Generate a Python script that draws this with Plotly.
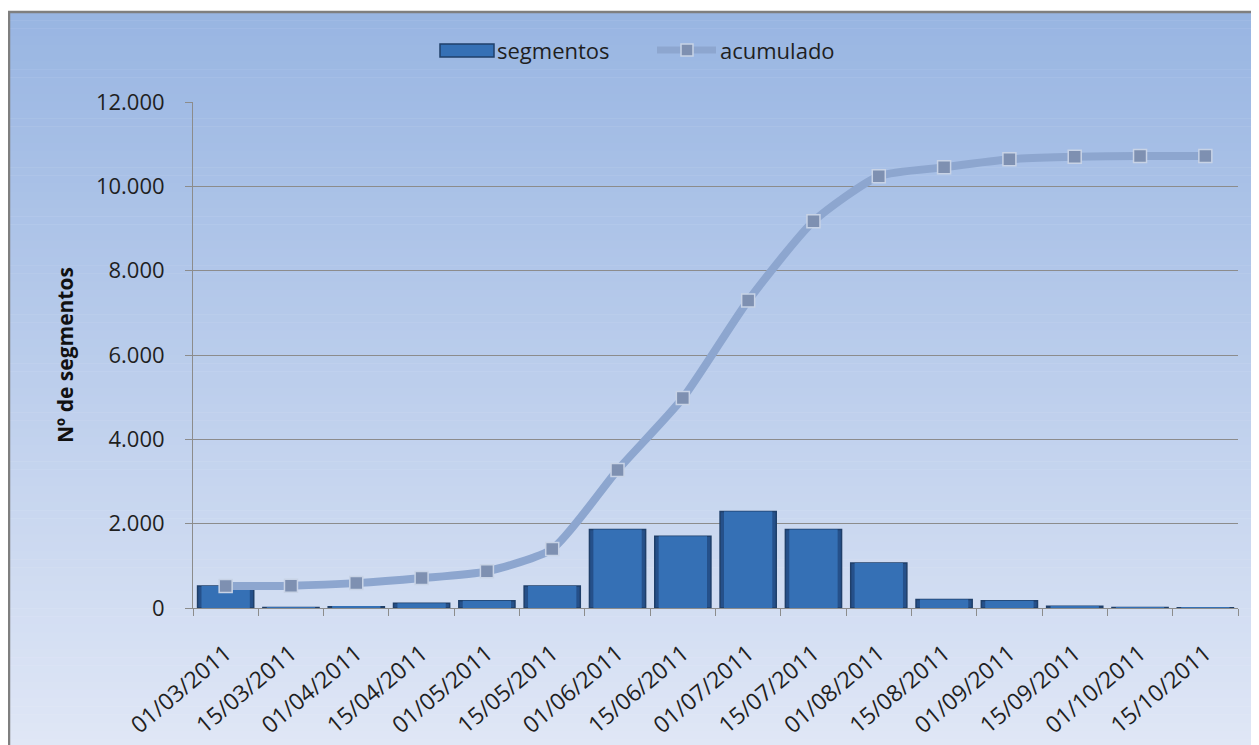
import plotly.graph_objects as go

categories = ["01/03/2011", "15/03/2011", "01/04/2011", "15/04/2011", "01/05/2011",
              "15/05/2011", "01/06/2011", "15/06/2011", "01/07/2011", "15/07/2011",
              "01/08/2011", "15/08/2011", "01/09/2011", "15/09/2011", "01/10/2011",
              "15/10/2011"]
segmentos = [520, 10, 30, 110, 170, 520, 1860, 1700, 2290, 1860, 1070, 200, 170, 40, 10, 8]
acumulado = [520, 530, 590, 710, 870, 1400, 3270, 4980, 7290, 9170, 10240, 10450, 10640, 10700, 10720, 10720]
y_tickvals = [0, 2000, 4000, 6000, 8000, 10000, 12000]
y_ticktext = ["0", "2.000", "4.000", "6.000", "8.000", "10.000", "12.000"]
series_names = ["segmentos", "acumulado"]

OFF = 8  # page body margin
W, H = 1259 - OFF, 745 - OFF
ML, MR, MT, MB = 193 - OFF, 21, 102 - OFF, 137
PW, PH = W - ML - MR, H - MT - MB

def px_x(x):  # page pixel -> paper
    return (x - OFF - ML) / PW

def px_y(y):
    return (OFF + H - MB - y) / PH

FONT = "'Open Sans', Lato, sans-serif"
TXT = "#1f1f1f"
BAR_EDGE = "#25508a"
BAR = "#3570b5"
BAR_LINE = "#1f3f6a"
LINE = "#8da6cf"
MK = "#7e90b1"
MK_LINE = "#c8d3e6"

fig = go.Figure()

# outer (darker bevel edge) and inner (lighter face) bars, same data
fig.add_trace(go.Bar(
    x=categories, y=segmentos, name=series_names[0],
    marker=dict(color=BAR_EDGE, line=dict(color=BAR_LINE, width=1.5)),
    width=0.86, hoverinfo="skip",
))
fig.add_trace(go.Bar(
    x=categories, y=segmentos, name=series_names[0],
    marker=dict(color=BAR, line=dict(width=0)),
    width=0.74,
))
fig.add_trace(go.Scatter(
    x=categories, y=acumulado, name=series_names[1], mode="lines+markers",
    line=dict(color=LINE, width=8, shape="spline", smoothing=0.6),
    marker=dict(symbol="square", size=13, color=MK, line=dict(color=MK_LINE, width=1.5)),
))

# background gradient (strips) + frame
shapes = []
top_px, bot_px = 12, 747
n = 90
c0 = (152, 181, 226)
c1 = (224, 231, 246)
for i in range(n):
    y0 = top_px + (bot_px - top_px) * i / n
    y1 = top_px + (bot_px - top_px) * (i + 1) / n + 0.5
    t = (i + 0.5) / n
    c = tuple(round(c0[k] + (c1[k] - c0[k]) * t) for k in range(3))
    shapes.append(dict(type="rect", xref="paper", yref="paper", layer="below",
                       x0=px_x(8), x1=px_x(1262), y0=px_y(y1), y1=px_y(y0),
                       fillcolor="rgb(%d,%d,%d)" % c, line=dict(width=0)))
shapes.append(dict(type="line", xref="paper", yref="paper", layer="above",
                   x0=px_x(8), x1=px_x(1262), y0=px_y(12), y1=px_y(12),
                   line=dict(color="#7f7f7f", width=2.5)))
shapes.append(dict(type="line", xref="paper", yref="paper", layer="above",
                   x0=px_x(9), x1=px_x(9), y0=px_y(12), y1=px_y(747),
                   line=dict(color="#7f7f7f", width=2.5)))

# custom legend
shapes.append(dict(type="rect", xref="paper", yref="paper", layer="above",
                   x0=px_x(440), x1=px_x(494), y0=px_y(57), y1=px_y(44),
                   fillcolor=BAR, line=dict(color=BAR_LINE, width=1.5)))
shapes.append(dict(type="line", xref="paper", yref="paper", layer="above",
                   x0=px_x(657), x1=px_x(716), y0=px_y(50), y1=px_y(50),
                   line=dict(color=LINE, width=7)))
shapes.append(dict(type="rect", xref="paper", yref="paper", layer="above",
                   x0=px_x(681), x1=px_x(693), y0=px_y(56), y1=px_y(44),
                   fillcolor=MK, line=dict(color=MK_LINE, width=1.5)))

annotations = [
    dict(text="<b>Nº de segmentos</b>", xref="paper", yref="paper",
         x=px_x(65), y=px_y(355), xanchor="center", yanchor="middle",
         textangle=-90, showarrow=False,
         font=dict(size=21, color="#111111", family=FONT)),
    dict(text=series_names[0], xref="paper", yref="paper", x=px_x(495), y=px_y(50),
         xanchor="left", yanchor="middle", showarrow=False,
         font=dict(size=22, color=TXT, family=FONT)),
    dict(text=series_names[1], xref="paper", yref="paper", x=px_x(718), y=px_y(50),
         xanchor="left", yanchor="middle", showarrow=False,
         font=dict(size=22, color=TXT, family=FONT)),
]

fig.update_layout(
    width=W, height=H,
    margin=dict(l=ML, r=MR, t=MT, b=MB),
    paper_bgcolor="white", plot_bgcolor="rgba(0,0,0,0)",
    font=dict(family=FONT, color=TXT, size=19),
    shapes=shapes, annotations=annotations,
    showlegend=False, barmode="overlay",
)
fig.update_yaxes(range=[0, 12000], tickvals=y_tickvals, ticktext=y_ticktext,
                 showgrid=True, gridcolor="#8c8c8c", gridwidth=1,
                 showline=True, linecolor="#8c8c8c", linewidth=1,
                 ticks="outside", ticklen=7, tickcolor="#8c8c8c",
                 ticklabelstandoff=16, automargin=False,
                 tickfont=dict(size=22, color=TXT), zeroline=False)
fig.update_xaxes(type="category", tickson="boundaries", ticks="outside", ticklen=7,
                 tickcolor="#8c8c8c", showline=True, linecolor="#8c8c8c", linewidth=1,
                 tickangle=-40, ticklabelstandoff=22, automargin=False,
                 tickfont=dict(size=23, color=TXT), showgrid=False,
                 range=[-0.5, 15.5])

fig.write_html("out.html")
